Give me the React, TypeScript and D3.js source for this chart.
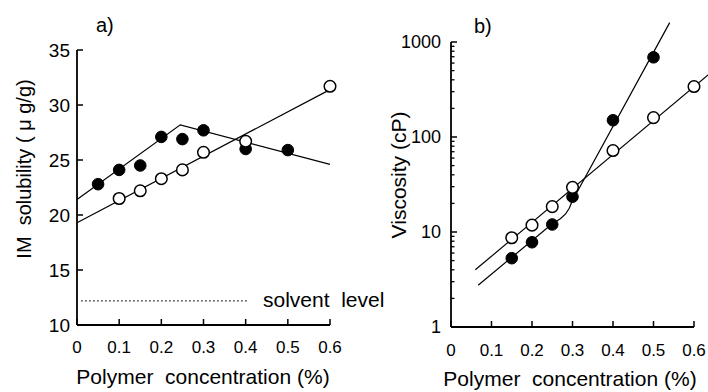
import React from "react";
import * as d3 from "d3";

// ---------- Data ----------
// Panel a) IM solubility vs polymer concentration
const solidAConc = [0.05, 0.1, 0.15, 0.2, 0.25, 0.3, 0.4, 0.5];
const solidASol = [22.8, 24.1, 24.5, 27.1, 26.9, 27.7, 26.0, 25.9];
const openAConc = [0.1, 0.15, 0.2, 0.25, 0.3, 0.4, 0.6];
const openASol = [21.5, 22.2, 23.3, 24.1, 25.7, 26.7, 31.7];
const solidAFitConc = [0, 0.245, 0.6];
const solidAFitSol = [21.4, 28.2, 24.6];
const openAFitConc = [0, 0.6];
const openAFitSol = [19.3, 31.4];
const solventLevel = 12.2;
const solventConc = [0.01, 0.405];
const yTicksA = [10, 15, 20, 25, 30, 35];
const xTicks = [0, 0.1, 0.2, 0.3, 0.4, 0.5, 0.6];

// Panel b) Viscosity vs polymer concentration
const solidBConc = [0.15, 0.2, 0.25, 0.3, 0.4, 0.5];
const solidBVisc = [5.3, 7.8, 12.0, 23.5, 150, 690];
const openBConc = [0.15, 0.2, 0.25, 0.3, 0.4, 0.5, 0.6];
const openBVisc = [8.7, 11.8, 18.5, 29.5, 72, 160, 340];
const solidBFitConc = [0.067, 0.25, 0.27, 0.283, 0.292, 0.3, 0.54];
const solidBFitVisc = [2.75, 12.2, 13.8, 15.5, 17.8, 21.5, 1600];
const openBFitConc = [0.06, 0.64];
const openBFitVisc = [4.0, 470];
const yTicksB = [1, 10, 100, 1000];

const FONT = "'Liberation Sans', Arial, Helvetica, sans-serif";

const zip = (xs: number[], ys: number[]) => xs.map((x, i) => [x, ys[i]] as [number, number]);

export default function App() {
  const xA = d3.scaleLinear().domain([0, 0.6]).range([77, 330]);
  const yA = d3.scaleLinear().domain([10, 35]).range([325, 50]);
  const xB = d3.scaleLinear().domain([0, 0.6]).range([451, 694]);
  const yB = d3.scaleLog().domain([1, 1000]).range([327, 42]);

  const lineA = d3
    .line<[number, number]>()
    .x((d) => xA(d[0]))
    .y((d) => yA(d[1]));
  const lineB = d3
    .line<[number, number]>()
    .x((d) => xB(d[0]))
    .y((d) => yB(d[1]));

  const minorB: number[] = [];
  for (let dec = 1; dec < 1000; dec *= 10) {
    for (let k = 2; k <= 9; k++) minorB.push(dec * k);
  }

  const axisStroke = 1.8;
  const lineStroke = 1.2;
  const r = 5.8;

  return (
    <svg
      width={708}
      height={392}
      style={{ position: "absolute", left: 0, top: 0, background: "#fff" }}
      fontFamily={FONT}
    >
      <rect width={708} height={392} fill="#fff" />
      {/* ===== Panel a ===== */}
      <g>
        <path d={lineA(zip(solidAFitConc, solidAFitSol)) || ""} fill="none" stroke="#000" strokeWidth={lineStroke} />
        <path d={lineA(zip(openAFitConc, openAFitSol)) || ""} fill="none" stroke="#000" strokeWidth={lineStroke} />
        <line
          x1={xA(solventConc[0])}
          x2={xA(solventConc[1])}
          y1={yA(solventLevel)}
          y2={yA(solventLevel)}
          stroke="#000"
          strokeWidth={1.3}
          strokeDasharray="1.4,2.6"
        />
        <text x={263} y={yA(solventLevel) + 6} fontSize={21} style={{ whiteSpace: "pre" }}>
          {"solvent  level"}
        </text>
        {solidAConc.map((c, i) => (
          <circle key={"sa" + i} cx={xA(c)} cy={yA(solidASol[i])} r={r} fill="#000" stroke="#000" strokeWidth={1} />
        ))}
        {openAConc.map((c, i) => (
          <circle key={"oa" + i} cx={xA(c)} cy={yA(openASol[i])} r={r} fill="#fff" stroke="#000" strokeWidth={1.5} />
        ))}
        <line x1={xA(0)} x2={xA(0)} y1={yA(35)} y2={yA(10)} stroke="#000" strokeWidth={axisStroke} />
        <line x1={xA(0)} x2={xA(0.6)} y1={yA(10)} y2={yA(10)} stroke="#000" strokeWidth={axisStroke} />
        {yTicksA.map((t) => (
          <g key={"ya" + t}>
            <line x1={xA(0)} x2={xA(0) + 6} y1={yA(t)} y2={yA(t)} stroke="#000" strokeWidth={1.5} />
            <text x={70} y={yA(t)} dy="0.35em" textAnchor="end" fontSize={19}>
              {t}
            </text>
          </g>
        ))}
        {xTicks.map((t) => (
          <g key={"xa" + t}>
            <line x1={xA(t)} x2={xA(t)} y1={yA(10)} y2={yA(10) - 6} stroke="#000" strokeWidth={1.5} />
            <text x={xA(t)} y={353} textAnchor="middle" fontSize={17}>
              {t === 0 ? "0" : t.toFixed(1)}
            </text>
          </g>
        ))}
        <text x={203} y={384} textAnchor="middle" fontSize={21} style={{ whiteSpace: "pre" }}>
          {"Polymer  concentration (%)"}
        </text>
        <text
          transform={`translate(31,169) rotate(-90)`}
          textAnchor="middle"
          fontSize={20}
          style={{ whiteSpace: "pre" }}
        >
          {"IM  solubility ( \u03BC g/g)"}
        </text>
        <text x={96} y={32} fontSize={20}>
          a)
        </text>
      </g>

      {/* ===== Panel b ===== */}
      <g>
        <path d={lineB(zip(openBFitConc, openBFitVisc)) || ""} fill="none" stroke="#000" strokeWidth={lineStroke} />
        <path d={lineB(zip(solidBFitConc, solidBFitVisc)) || ""} fill="none" stroke="#000" strokeWidth={lineStroke} />
        {solidBConc.map((c, i) => (
          <circle key={"sb" + i} cx={xB(c)} cy={yB(solidBVisc[i])} r={r} fill="#000" stroke="#000" strokeWidth={1} />
        ))}
        {openBConc.map((c, i) => (
          <circle key={"ob" + i} cx={xB(c)} cy={yB(openBVisc[i])} r={r} fill="#fff" stroke="#000" strokeWidth={1.5} />
        ))}
        <line x1={xB(0)} x2={xB(0)} y1={yB(1000)} y2={yB(1)} stroke="#000" strokeWidth={axisStroke} />
        <line x1={xB(0)} x2={xB(0.6)} y1={yB(1)} y2={yB(1)} stroke="#000" strokeWidth={axisStroke} />
        {minorB.map((t) => (
          <line key={"mb" + t} x1={xB(0)} x2={xB(0) + 3.5} y1={yB(t)} y2={yB(t)} stroke="#000" strokeWidth={1.3} />
        ))}
        {yTicksB.map((t) => (
          <g key={"yb" + t}>
            <line x1={xB(0)} x2={xB(0) + 6} y1={yB(t)} y2={yB(t)} stroke="#000" strokeWidth={1.5} />
            <text x={441} y={yB(t)} dy="0.35em" textAnchor="end" fontSize={18}>
              {t}
            </text>
          </g>
        ))}
        {xTicks.map((t) => (
          <g key={"xb" + t}>
            <line x1={xB(t)} x2={xB(t)} y1={yB(1)} y2={yB(1) - 6} stroke="#000" strokeWidth={1.5} />
            <text x={xB(t)} y={356} textAnchor="middle" fontSize={17}>
              {t === 0 ? "0" : t.toFixed(1)}
            </text>
          </g>
        ))}
        <text x={570} y={386} textAnchor="middle" fontSize={21} style={{ whiteSpace: "pre" }}>
          {"Polymer  concentration (%)"}
        </text>
        <text transform={`translate(406,175) rotate(-90)`} textAnchor="middle" fontSize={21}>
          Viscosity (cP)
        </text>
        <text x={474} y={33} fontSize={20}>
          b)
        </text>
      </g>
    </svg>
  );
}
